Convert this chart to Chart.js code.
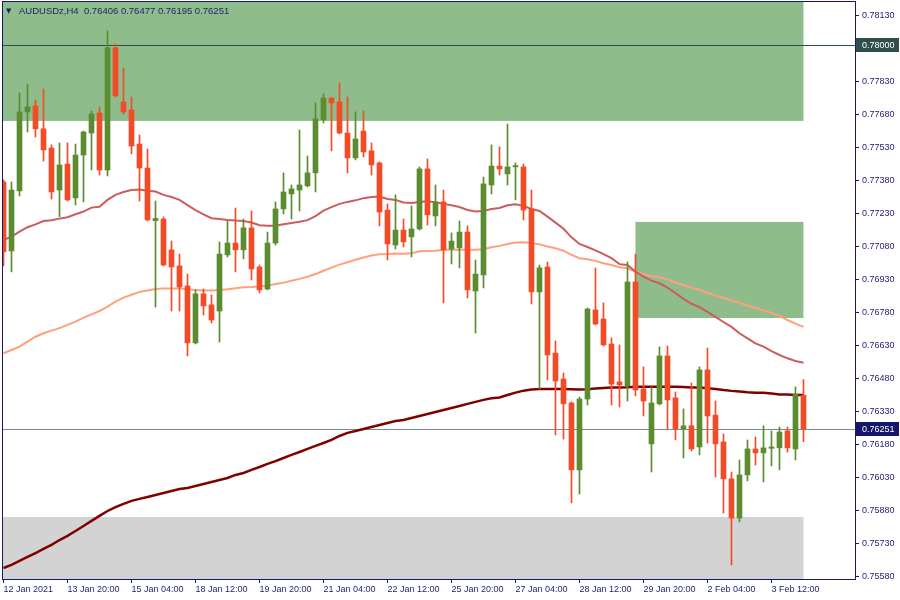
<!DOCTYPE html>
<html>
<head>
<meta charset="utf-8">
<title>AUDUSDz,H4</title>
<script src="https://cdn.jsdelivr.net/npm/chart.js@4.4.1/dist/chart.umd.min.js"></script>
<style>
  html, body { margin: 0; padding: 0; background: #ffffff; }
</style>
</head>
<body>
<canvas id="priceChart" width="900" height="600"></canvas>
<script>
// Velas H4 (abertura, máxima, mínima, fechamento)
const opens = [
  0.77376, 0.77062, 0.77335, 0.77694, 0.77721, 0.77617, 0.77530, 0.77339, 0.77457, 0.77303,
  0.77498, 0.77598, 0.77689, 0.77430, 0.77985, 0.77739, 0.77703, 0.77548, 0.77439, 0.77200,
  0.77207, 0.77067, 0.76994, 0.76903, 0.76644, 0.76867, 0.76817, 0.76789, 0.77044, 0.77098,
  0.77067, 0.77167, 0.76989, 0.76889, 0.77098, 0.77253, 0.77321, 0.77339, 0.77358, 0.77417,
  0.77658, 0.77757, 0.77739, 0.77598, 0.77485, 0.77607, 0.77517, 0.77462, 0.77248, 0.77089,
  0.77157, 0.77126, 0.77162, 0.77435, 0.77221, 0.77285, 0.77071, 0.77076, 0.77148, 0.76880,
  0.76953, 0.77362, 0.77448, 0.77412, 0.77444, 0.77444, 0.77253, 0.76876, 0.76989, 0.76598,
  0.76480, 0.76371, 0.76067, 0.76389, 0.76794, 0.76753, 0.76639, 0.76467, 0.76448, 0.76921,
  0.76435, 0.76185, 0.76367, 0.76585, 0.76394, 0.76253, 0.76267, 0.76171, 0.76521, 0.76316,
  0.76194, 0.76026, 0.75848, 0.76044, 0.76162, 0.76144, 0.76165, 0.76167, 0.76244, 0.76162,
  0.76406
];
const highs = [
  0.77385, 0.77376, 0.77780, 0.77821, 0.77748, 0.77798, 0.77544, 0.77553, 0.77553, 0.77548,
  0.77607, 0.77698, 0.77717, 0.78062, 0.78003, 0.77894, 0.77762, 0.77589, 0.77526, 0.77289,
  0.77217, 0.77107, 0.77048, 0.76957, 0.76885, 0.76889, 0.76862, 0.77103, 0.77203, 0.77257,
  0.77207, 0.77244, 0.76998, 0.77148, 0.77285, 0.77417, 0.77362, 0.77612, 0.77494, 0.77735,
  0.77776, 0.77760, 0.77826, 0.77762, 0.77694, 0.77698, 0.77553, 0.77467, 0.77276, 0.77317,
  0.77207, 0.77267, 0.77444, 0.77480, 0.77362, 0.77339, 0.77144, 0.77198, 0.77176, 0.77021,
  0.77398, 0.77544, 0.77535, 0.77639, 0.77462, 0.77457, 0.77339, 0.76998, 0.77012, 0.76653,
  0.76507, 0.76376, 0.76398, 0.76803, 0.76985, 0.76826, 0.76667, 0.76635, 0.77012, 0.77048,
  0.76535, 0.76444, 0.76626, 0.76630, 0.76421, 0.76344, 0.76462, 0.76535, 0.76621, 0.76380,
  0.76230, 0.76057, 0.76112, 0.76203, 0.76217, 0.76267, 0.76244, 0.76262, 0.76262, 0.76444,
  0.76477
];
const lows = [
  0.76994, 0.76967, 0.77312, 0.77603, 0.77580, 0.77471, 0.77298, 0.77217, 0.77289, 0.77271,
  0.77285, 0.77430, 0.77407, 0.77403, 0.77762, 0.77685, 0.77503, 0.77289, 0.77198, 0.76807,
  0.76994, 0.76789, 0.76789, 0.76585, 0.76639, 0.76771, 0.76735, 0.76648, 0.77035, 0.76967,
  0.77026, 0.76930, 0.76871, 0.76885, 0.77089, 0.77230, 0.77207, 0.77244, 0.77353, 0.77330,
  0.77644, 0.77517, 0.77594, 0.77417, 0.77476, 0.77489, 0.77407, 0.77176, 0.77021, 0.77071,
  0.77080, 0.77035, 0.77157, 0.77180, 0.77176, 0.76826, 0.77003, 0.76985, 0.76848, 0.76689,
  0.76894, 0.77321, 0.77407, 0.77362, 0.77294, 0.77203, 0.76821, 0.76435, 0.76476, 0.76226,
  0.76207, 0.75917, 0.75957, 0.76362, 0.76726, 0.76630, 0.76362, 0.76353, 0.76380, 0.76403,
  0.76312, 0.76057, 0.76362, 0.76253, 0.76203, 0.76121, 0.76153, 0.76135, 0.76189, 0.76035,
  0.75871, 0.75635, 0.75830, 0.76017, 0.76089, 0.76012, 0.76085, 0.76067, 0.76148, 0.76112,
  0.76195
];
const closes = [
  0.77058, 0.77339, 0.77694, 0.77717, 0.77617, 0.77521, 0.77330, 0.77453, 0.77294, 0.77498,
  0.77603, 0.77685, 0.77430, 0.77985, 0.77767, 0.77694, 0.77539, 0.77439, 0.77203, 0.77210,
  0.76998, 0.76989, 0.76898, 0.76644, 0.76867, 0.76812, 0.76748, 0.77048, 0.77098, 0.77067,
  0.77167, 0.76980, 0.76885, 0.77098, 0.77253, 0.77330, 0.77344, 0.77362, 0.77417, 0.77662,
  0.77757, 0.77735, 0.77598, 0.77485, 0.77571, 0.77512, 0.77453, 0.77239, 0.77094, 0.77157,
  0.77103, 0.77162, 0.77435, 0.77226, 0.77285, 0.77067, 0.77107, 0.77148, 0.76885, 0.76957,
  0.77367, 0.77448, 0.77435, 0.77444, 0.77450, 0.77248, 0.76876, 0.76985, 0.76589, 0.76471,
  0.76367, 0.76067, 0.76389, 0.76798, 0.76730, 0.76635, 0.76457, 0.76453, 0.76921, 0.76430,
  0.76380, 0.76371, 0.76585, 0.76385, 0.76253, 0.76267, 0.76162, 0.76521, 0.76312, 0.76185,
  0.76026, 0.75848, 0.76044, 0.76162, 0.76144, 0.76167, 0.76171, 0.76239, 0.76167, 0.76412,
  0.76251
];

// Médias móveis (rápida, média, lenta)
const maFast = [
  0.77112, 0.77127, 0.77150, 0.77170, 0.77183, 0.77198, 0.77202, 0.77209, 0.77215, 0.77229,
  0.77241, 0.77259, 0.77263, 0.77294, 0.77317, 0.77330, 0.77339, 0.77341, 0.77336, 0.77332,
  0.77317, 0.77307, 0.77294, 0.77270, 0.77248, 0.77228, 0.77211, 0.77207, 0.77203, 0.77200,
  0.77198, 0.77191, 0.77179, 0.77177, 0.77177, 0.77183, 0.77189, 0.77195, 0.77202, 0.77220,
  0.77245, 0.77261, 0.77276, 0.77285, 0.77292, 0.77302, 0.77307, 0.77309, 0.77298, 0.77294,
  0.77282, 0.77280, 0.77285, 0.77288, 0.77283, 0.77276, 0.77270, 0.77262, 0.77248, 0.77241,
  0.77244, 0.77253, 0.77257, 0.77270, 0.77274, 0.77267, 0.77253, 0.77244, 0.77218, 0.77191,
  0.77163, 0.77124, 0.77094, 0.77080, 0.77065, 0.77048, 0.77029, 0.77002, 0.76998, 0.76968,
  0.76945, 0.76927, 0.76915, 0.76895, 0.76870, 0.76844, 0.76822, 0.76807, 0.76785, 0.76762,
  0.76739, 0.76717, 0.76688, 0.76665, 0.76642, 0.76627, 0.76607, 0.76589, 0.76574, 0.76562,
  0.76554
];
const maMid = [
  0.76597, 0.76612, 0.76627, 0.76650, 0.76672, 0.76688, 0.76700, 0.76711, 0.76726, 0.76741,
  0.76759, 0.76774, 0.76789, 0.76809, 0.76832, 0.76850, 0.76863, 0.76876, 0.76882, 0.76889,
  0.76891, 0.76891, 0.76891, 0.76888, 0.76885, 0.76882, 0.76882, 0.76885, 0.76888, 0.76892,
  0.76897, 0.76898, 0.76902, 0.76904, 0.76912, 0.76918, 0.76927, 0.76935, 0.76945, 0.76957,
  0.76972, 0.76986, 0.77000, 0.77011, 0.77022, 0.77032, 0.77041, 0.77047, 0.77048, 0.77050,
  0.77049, 0.77052, 0.77061, 0.77062, 0.77063, 0.77067, 0.77068, 0.77068, 0.77068, 0.77068,
  0.77070, 0.77079, 0.77085, 0.77094, 0.77100, 0.77102, 0.77098, 0.77092, 0.77082, 0.77074,
  0.77063, 0.77044, 0.77029, 0.77024, 0.77017, 0.77006, 0.76998, 0.76988, 0.76983, 0.76968,
  0.76956, 0.76948, 0.76942, 0.76933, 0.76920, 0.76907, 0.76895, 0.76885, 0.76871, 0.76860,
  0.76848, 0.76837, 0.76826, 0.76814, 0.76803, 0.76792, 0.76780, 0.76767, 0.76748, 0.76732,
  0.76717
];
const maSlow = [
  0.75621, 0.75635, 0.75653, 0.75671, 0.75689, 0.75708, 0.75726, 0.75748, 0.75767, 0.75789,
  0.75812, 0.75835, 0.75858, 0.75880, 0.75898, 0.75912, 0.75926, 0.75935, 0.75944, 0.75953,
  0.75962, 0.75971, 0.75980, 0.75985, 0.75994, 0.76003, 0.76012, 0.76021, 0.76030, 0.76044,
  0.76053, 0.76067, 0.76080, 0.76094, 0.76107, 0.76121, 0.76135, 0.76148, 0.76162, 0.76176,
  0.76189, 0.76203, 0.76221, 0.76235, 0.76244, 0.76253, 0.76262, 0.76271, 0.76280, 0.76289,
  0.76294, 0.76303, 0.76312, 0.76321, 0.76330, 0.76339, 0.76348, 0.76357, 0.76367, 0.76376,
  0.76385, 0.76392, 0.76396, 0.76407, 0.76418, 0.76427, 0.76432, 0.76435, 0.76435, 0.76435,
  0.76434, 0.76433, 0.76432, 0.76433, 0.76437, 0.76439, 0.76441, 0.76441, 0.76442, 0.76445,
  0.76445, 0.76445, 0.76445, 0.76445, 0.76445, 0.76444, 0.76441, 0.76441, 0.76438, 0.76435,
  0.76430, 0.76426, 0.76423, 0.76420, 0.76418, 0.76417, 0.76414, 0.76410, 0.76409, 0.76407,
  0.76407
];

// Eixo do tempo: uma etiqueta a cada 8 velas
const timeTickIndex = [0, 8, 16, 24, 32, 40, 48, 56, 64, 72, 80, 88, 96];
const timeTickText = ['12 Jan 2021', '13 Jan 20:00', '15 Jan 04:00', '18 Jan 12:00', '19 Jan 20:00',
  '21 Jan 04:00', '22 Jan 12:00', '25 Jan 20:00', '27 Jan 04:00', '28 Jan 12:00',
  '29 Jan 20:00', '2 Feb 04:00', '3 Feb 12:00'];

// Eixo de preço
const priceTicks = [0.75580, 0.75730, 0.75880, 0.76030, 0.76180, 0.76330, 0.76480, 0.76630, 0.76780,
  0.76930, 0.77080, 0.77230, 0.77380, 0.77530, 0.77680, 0.77830, 0.77980, 0.78130];

// Zonas (retângulos) e linhas horizontais
const zoneTop = [0.78300, 0.77194, 0.75853];
const zoneBottom = [0.77653, 0.76757, 0.75400];
const zoneFrom = [-2, 79, -2];
const zoneTo = [100, 100, 100];
const zoneColors = ['#8fbc8b', '#8fbc8b', '#d3d3d3'];

const levelPrices = [0.78000, 0.76251];
const levelColors = ['#2f4f4f', '#778899'];
const levelLabelBg = ['#2f4f4f', '#15156b'];

const headerText = 'AUDUSDz,H4  0.76406 0.76477 0.76195 0.76251';

const bullColor = '#5b8c2f';
const bearColor = '#f24b26';
const axisColor = '#17176e';
const textColor = '#1d1d72';

const idx = opens.map((v, i) => i);
const candleColors = idx.map(i => closes[i] >= opens[i] ? bullColor : bearColor);
const wickData = idx.map(i => ({ x: i, y: [lows[i], highs[i]] }));
const bodyData = idx.map(i => ({ x: i, y: [opens[i], closes[i]] }));
const toPoints = arr => arr.map((v, i) => ({ x: i, y: v }));

// Desenha zonas, níveis, moldura e cabeçalho
const decorPlugin = {
    id: 'decor',
    beforeDatasetsDraw(chart) {
        const { ctx, chartArea: a, scales: { x, y } } = chart;
        ctx.save();
        ctx.beginPath();
        ctx.rect(a.left, a.top, a.right - a.left, a.bottom - a.top);
        ctx.clip();
        zoneTop.forEach((top, k) => {
            const x0 = x.getPixelForValue(zoneFrom[k]);
            const x1 = x.getPixelForValue(zoneTo[k]);
            const y0 = y.getPixelForValue(top);
            const y1 = y.getPixelForValue(zoneBottom[k]);
            ctx.fillStyle = zoneColors[k];
            ctx.fillRect(x0, y0, x1 - x0, y1 - y0);
        });
        levelPrices.forEach((p, k) => {
            const py = Math.round(y.getPixelForValue(p)) + 0.5;
            ctx.strokeStyle = levelColors[k];
            ctx.lineWidth = 1;
            ctx.beginPath();
            ctx.moveTo(a.left, py);
            ctx.lineTo(a.right, py);
            ctx.stroke();
        });
        ctx.restore();
    },
    afterDraw(chart) {
        const { ctx, chartArea: a, scales: { y } } = chart;
        ctx.save();
        // moldura
        ctx.strokeStyle = axisColor;
        ctx.lineWidth = 1;
        ctx.strokeRect(a.left - 0.5, a.top - 0.5, a.right - a.left + 1, a.bottom - a.top + 1);
        // etiquetas dos níveis no eixo de preço
        ctx.font = '9px "Liberation Sans"';
        ctx.textBaseline = 'middle';
        ctx.textAlign = 'left';
        levelPrices.forEach((p, k) => {
            const py = Math.round(y.getPixelForValue(p));
            ctx.fillStyle = levelLabelBg[k];
            ctx.fillRect(a.right + 1, py - 7, 43, 14);
            ctx.fillStyle = '#ffffff';
            ctx.fillText(p.toFixed(5), a.right + 7, py + 0.5);
        });
        // cabeçalho
        ctx.fillStyle = textColor;
        ctx.font = '7px "DejaVu Sans"';
        ctx.fillText('▼', 6, 11);
        ctx.font = '9.5px "Liberation Sans"';
        ctx.fillText(headerText, 19, 11.5);
        ctx.restore();
    }
};

const tickFont = { family: 'Liberation Sans', size: 9 };

new Chart(document.getElementById('priceChart').getContext('2d'), {
    type: 'bar',
    data: {
        datasets: [
            { type: 'bar', data: bodyData, backgroundColor: candleColors, barThickness: 5, minBarLength: 1, grouped: false, order: 0 },
            { type: 'bar', data: wickData, backgroundColor: candleColors, barThickness: 1, grouped: false, order: 1 },
            { type: 'line', data: toPoints(maFast), borderColor: '#cd5c5c', borderWidth: 2, pointRadius: 0, tension: 0, order: 2 },
            { type: 'line', data: toPoints(maMid), borderColor: '#ffa07a', borderWidth: 2, pointRadius: 0, tension: 0, order: 3 },
            { type: 'line', data: toPoints(maSlow), borderColor: '#800000', borderWidth: 2.5, pointRadius: 0, tension: 0, order: 4 }
        ]
    },
    options: {
        responsive: false,
        animation: false,
        devicePixelRatio: 1,
        events: [],
        layout: { padding: { left: 3, top: 2, right: 0, bottom: 0 } },
        plugins: { legend: { display: false }, tooltip: { enabled: false } },
        scales: {
            x: {
                type: 'linear',
                offset: false,
                min: -0.0625,
                max: 106.44,
                grid: { offset: false, drawOnChartArea: false, drawTicks: true, tickLength: 4, color: axisColor },
                border: { color: axisColor },
                ticks: {
                    autoSkip: false, maxRotation: 0, minRotation: 0, align: 'start', padding: 1,
                    color: textColor, font: tickFont,
                    callback: (v, i) => timeTickText[i]
                },
                afterBuildTicks: s => { s.ticks = timeTickIndex.map(v => ({ value: v })); },
                afterFit: s => { s.height = 21; s.paddingLeft = 0; s.paddingRight = 0; }
            },
            y: {
                position: 'right',
                min: 0.755709,
                max: 0.781936,
                grid: { drawOnChartArea: false, drawTicks: true, tickLength: 4, color: axisColor },
                border: { color: axisColor },
                ticks: { padding: 3, color: textColor, font: tickFont, callback: v => v.toFixed(5) },
                afterBuildTicks: s => { s.ticks = priceTicks.map(v => ({ value: v })); },
                afterFit: s => { s.width = 45; s.paddingTop = 0; s.paddingBottom = 0; }
            }
        }
    },
    plugins: [decorPlugin]
});
</script>
</body>
</html>
